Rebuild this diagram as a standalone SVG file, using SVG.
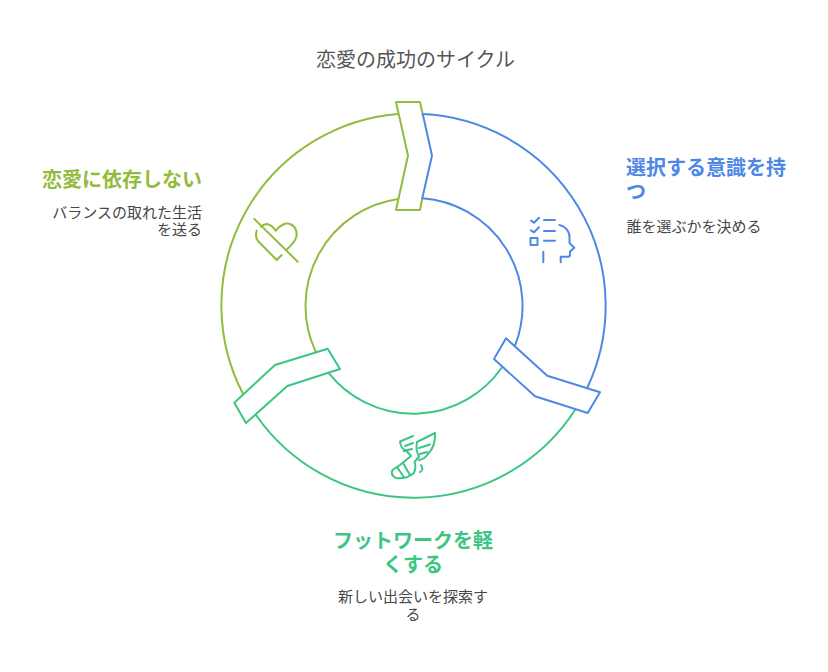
<svg xmlns="http://www.w3.org/2000/svg" width="828" height="672" viewBox="0 0 828 672">
<style>
text{font-family:"Noto Sans CJK JP","Noto Sans",sans-serif}
.t{font-size:20px;fill:#555}
.h{font-size:20px;font-weight:700}
.b{font-size:15px;fill:#484848}
.s{fill:none;stroke-width:2;stroke-linecap:round;stroke-linejoin:round}
.bl{stroke:#4e88e7}.gr{stroke:#3cc583}.ol{stroke:#92bc3c}
.m{text-anchor:middle}.e{text-anchor:end}
</style>
<rect width="828" height="672" fill="#fff"/>
<text class="t m" x="415.500" y="67">恋愛の成功のサイクル</text>
<g id="connectors">
<path class="s bl" d="M422.7 114A192 192 0 0 1 587.3 387.7"/>
<path class="s bl" d="M422.3 198.3A108 108 0 0 1 515 345.7"/>
<path class="s gr" d="M575 410A192 192 0 0 1 256 415"/>
<path class="s gr" d="M501.7 367.7A108 108 0 0 1 329 373.3"/>
<path class="s ol" d="M242.7 393.3A192 192 0 0 1 398 114"/>
<path class="s ol" d="M315.7 351.7A108 108 0 0 1 398.3 199"/>
</g>
<g id="node-top">
<path class="s ol" d="M422.7 114L420 102H396L408 155.5L396 210H420L422.3 198.3"/>
<path class="s bl" d="M422.7 114L432 155.5L422.3 198.3"/>
</g>
<g id="node-right">
<path class="s bl" d="M506 338.3L547.3 375.7L600 392.3L587.7 413L535 396.3L494 359Z"/>
</g>
<g id="node-left">
<path class="s gr" d="M327.7 348.7L340 369L287.3 386L246 423L234.3 402.7L275 365Z"/>
</g>
<g id="icon-mind" class="s bl">
<path d="M531 220.7L534 222.7L539 217.7M544 220H555M531 230.3L534 232.3L539 227.3M544 231H555M530.5 238H537.5V245H530.5ZM544 240.7H555M543.3 251.7V262.3"/>
<path d="M559.3 225C565 226 569.5 231 569.5 237V243L574.3 247.7L570 251.5V255C570 256 569 256.7 568 256.7H560.7V262.3"/>
</g>
<g id="icon-heart" class="s ol">
<path d="M254.3 219L297.7 261.7"/>
<path d="M261 226.7C266 222 271.500 224 275.700 230.700C280 225 286 222 291 224.500C297 227.500 298 235 295 240C293 243.500 290 246.500 286.300 250"/>
<path d="M281.700 255L276.700 260L258 241C256 238.500 255.700 234 256.700 230.700"/>
</g>
<g id="icon-wing" class="s gr">
<path d="M413 436L400 441.500C400.500 446 403 450 407 451.500M405 446L413 443M403.500 451L412 449"/>
<path d="M407 451.500L411 456L400 465L392.500 470C391 473 392 476 396 478C403 479 409 477 413.500 473.500C415.500 470 416 466 414.500 462L419 456.500"/>
<path d="M397 467L403.500 476.500M403 463L410 475"/>
<path d="M417 442C423 439 429 436 435 433C435.500 441 433 449 428 454C426 457 423 459.500 419 460M417 442C416 447 416.500 452 419 456.500M419 448L430 444.500M420 454L427 452"/>
<path d="M421 465C423 468 423 471 420 472"/>
</g>
<g id="label-left">
<text class="h e" x="202" y="187" fill="#92bc3c">恋愛に依存しない</text>
<text class="b e" x="202" y="218">バランスの取れた生活</text>
<text class="b e" x="202" y="235">を送る</text>
</g>
<g id="label-right">
<text class="h" x="626" y="175" fill="#4e88e7">選択する意識を持</text>
<text class="h" x="626" y="199" fill="#4e88e7">つ</text>
<text class="b" x="626.500" y="232">誰を選ぶかを決める</text>
</g>
<g id="label-bottom">
<text class="h m" x="413" y="548" fill="#3cc583">フットワークを軽</text>
<text class="h m" x="413" y="572" fill="#3cc583">くする</text>
<text class="b m" x="413" y="602">新しい出会いを探索す</text>
<text class="b m" x="413" y="620">る</text>
</g>
</svg>
